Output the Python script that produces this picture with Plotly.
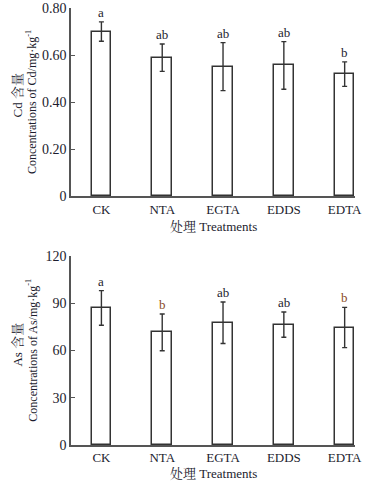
import plotly.graph_objects as go

categories = ["CK", "NTA", "EGTA", "EDDS", "EDTA"]
cd_values = [0.70, 0.589, 0.551, 0.556, 0.519]
cd_errors = [0.041, 0.058, 0.102, 0.101, 0.052]
cd_letters = ["a", "ab", "ab", "ab", "b"]
as_values = [87.0, 71.5, 77.6, 76.4, 74.6]
as_errors = [11.0, 11.7, 13.2, 8.0, 12.8]
as_letters = ["a", "b", "ab", "ab", "b"]
cd_ticks = [0, 0.2, 0.4, 0.6, 0.8]
cd_ticktext = ["0", "0.20", "0.40", "0.60", "0.80"]
as_ticks = [0, 30, 60, 90, 120]
as_ticktext = ["0", "30", "60", "90", "120"]

FONT = "Liberation Serif, 'Times New Roman', 'Noto Serif CJK SC', 'Noto Sans CJK SC', serif"
TXT = "#1c1c2e"
AX = "#555555"
BROWN = "#8a4a1e"

xs = list(range(len(categories)))

TOP_DOM = [0.569, 1.0]
BOT_DOM = [0.0, 0.4325]

fig = go.Figure()
fig.add_trace(go.Bar(
    x=xs, y=cd_values, width=0.32,
    marker=dict(color="white", line=dict(color="#333333", width=1.5)),
    error_y=dict(type="data", array=cd_errors, color="#333333", thickness=1.4, width=2.5),
    xaxis="x", yaxis="y", showlegend=False))
fig.add_trace(go.Bar(
    x=xs, y=as_values, width=0.32,
    marker=dict(color="white", line=dict(color="#333333", width=1.5)),
    error_y=dict(type="data", array=as_errors, color="#333333", thickness=1.4, width=2.5),
    xaxis="x2", yaxis="y2", showlegend=False))

annotations = []
for i, (v, e, l) in enumerate(zip(cd_values, cd_errors, cd_letters)):
    annotations.append(dict(x=i, y=v + e, xref="x", yref="y", text=l, showarrow=False,
                            yanchor="bottom", yshift=0, font=dict(family=FONT, size=13, color=TXT)))
for i, (v, e, l) in enumerate(zip(as_values, as_errors, as_letters)):
    annotations.append(dict(x=i, y=v + e, xref="x2", yref="y2", text=l, showarrow=False,
                            yanchor="bottom", yshift=0,
                            font=dict(family=FONT, size=13, color=BROWN if l == "b" else TXT)))

# y-axis titles (two lines each)
for (line1, line2, ycen1, ycen2) in [
    ("Cd 含量", "Concentrations of Cd/mg·kg<sup>-1</sup>", 0.80, 0.785),
    ("As 含量", "Concentrations of As/mg·kg<sup>-1</sup>", 0.23, 0.216),
]:
    annotations.append(dict(x=-0.19, y=ycen1, xref="paper", yref="paper", text=line1,
                            textangle=-90, showarrow=False, xanchor="center", yanchor="middle",
                            font=dict(family=FONT, size=13, color=TXT)))
    annotations.append(dict(x=-0.137, y=ycen2, xref="paper", yref="paper", text=line2,
                            textangle=-90, showarrow=False, xanchor="center", yanchor="middle",
                            font=dict(family=FONT, size=12, color=TXT)))

# x-axis titles
for ybase, shift in [(TOP_DOM[0], -30), (BOT_DOM[0], -28)]:
    annotations.append(dict(x=0.5, y=ybase, xref="paper", yref="paper", text="处理 Treatments",
                            showarrow=False, xanchor="center", yanchor="middle", yshift=shift,
                            font=dict(family=FONT, size=13, color=TXT)))

xaxis_common = dict(range=[-0.5, 4.17], tickvals=xs, ticktext=categories,
                    showline=True, linecolor=AX, linewidth=1.5, ticks="",
                    showgrid=False, zeroline=False, automargin=False,
                    tickfont=dict(family=FONT, size=13, color=TXT))
yaxis_common = dict(showline=True, linecolor=AX, linewidth=1.5, ticks="inside",
                    ticklen=4, tickcolor=AX, tickwidth=1.2, showgrid=False, zeroline=False,
                    automargin=False,
                    tickfont=dict(family=FONT, size=14, color=TXT))

fig.update_layout(
    width=382, height=487,
    margin=dict(l=71, r=27, t=8, b=42, autoexpand=False),
    paper_bgcolor="white", plot_bgcolor="white",
    bargap=0,
    xaxis=dict(**xaxis_common, domain=[0, 1], anchor="y"),
    yaxis=dict(**yaxis_common, domain=TOP_DOM, range=[0, 0.8],
               tickvals=cd_ticks, ticktext=cd_ticktext, anchor="x"),
    xaxis2=dict(**xaxis_common, domain=[0, 1], anchor="y2"),
    yaxis2=dict(**yaxis_common, domain=BOT_DOM, range=[0, 120],
                tickvals=as_ticks, ticktext=as_ticktext, anchor="x2"),
    annotations=annotations,
)

fig.write_html("out.html", config={"displayModeBar": False},
               post_script="document.body.style.margin='0px';")
